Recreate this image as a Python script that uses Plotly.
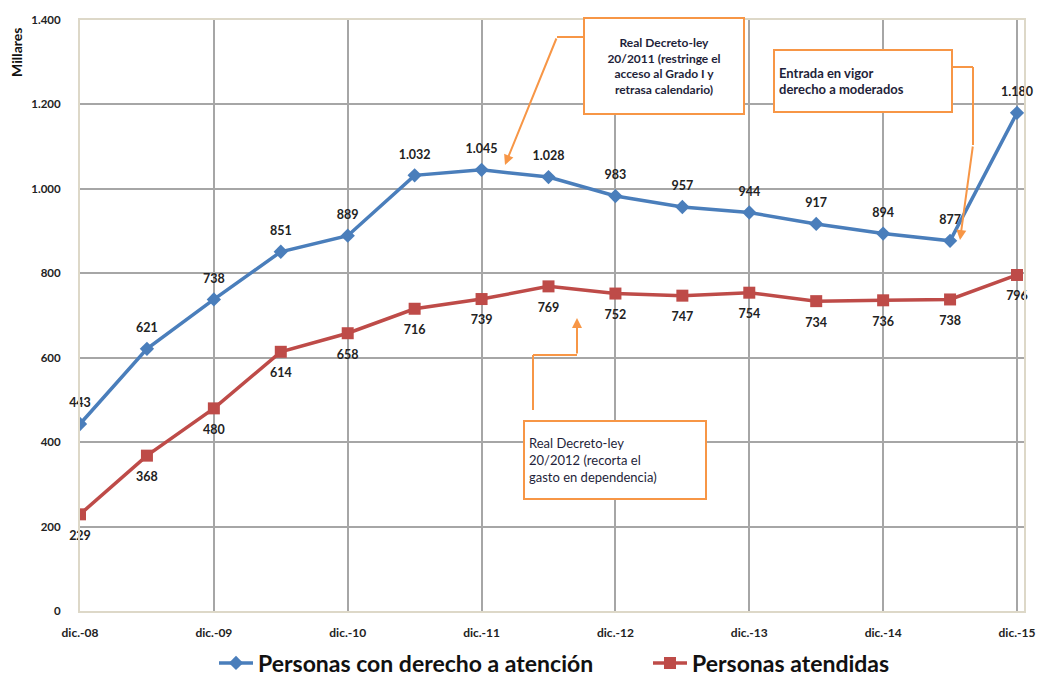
import plotly.graph_objects as go

categories = ["dic.-08", "jun.-09", "dic.-09", "jun.-10", "dic.-10", "jun.-11", "dic.-11",
              "jun.-12", "dic.-12", "jun.-13", "dic.-13", "jun.-14", "dic.-14", "jun.-15", "dic.-15"]
derecho = [443, 621, 738, 851, 889, 1032, 1045, 1028, 983, 957, 944, 917, 894, 877, 1180]
atendidas = [229, 368, 480, 614, 658, 716, 739, 769, 752, 747, 754, 734, 736, 738, 796]
tick_labels = ["dic.-08", "dic.-09", "dic.-10", "dic.-11", "dic.-12", "dic.-13", "dic.-14", "dic.-15"]

# page coordinates of the plot area (the page body has an 8px default margin)
OFF = 8
L, R, T, B = 80, 1024, 20, 611
WF, HF = 1037, 690
FONT = "Lato"
ORANGE = "#F79646"
BLUE = "#4A7EBB"
RED = "#BE4B48"
LABEL_FONT = dict(family=FONT, size=12.5, color="#222222", weight="bold")

xs = list(range(len(categories)))

fig = go.Figure()
fig.add_trace(go.Scatter(
    x=xs, y=derecho, name="Personas con derecho a atención",
    mode="lines+markers",
    line=dict(color=BLUE, width=3.5),
    marker=dict(symbol="diamond", size=11, color=BLUE),
    customdata=categories,
))
fig.add_trace(go.Scatter(
    x=xs, y=atendidas, name="Personas atendidas",
    mode="lines+markers",
    line=dict(color=RED, width=3.5),
    marker=dict(symbol="square", size=12, color=RED),
    customdata=categories,
))
# value labels (transparent markers give the labels their distance from the points)
fig.add_trace(go.Scatter(
    x=xs, y=derecho, mode="markers+text", showlegend=False, hoverinfo="skip",
    marker=dict(size=20, color="rgba(0,0,0,0)"),
    text=derecho, texttemplate="%{y:,}", textposition="top center",
    textfont=LABEL_FONT, cliponaxis=False,
))
fig.add_trace(go.Scatter(
    x=xs, y=atendidas, mode="markers+text", showlegend=False, hoverinfo="skip",
    marker=dict(size=24, color="rgba(0,0,0,0)"),
    text=atendidas, texttemplate="%{y:,}", textposition="bottom center",
    textfont=LABEL_FONT, cliponaxis=False,
))


def px(x):
    return (x - L) / (R - L)


def py(y):
    return (B - y) / (B - T)


shapes = []
for (x0, y0, x1, y1) in [(583, 37, 557, 37),
                         (953, 67, 973, 67), (973, 67, 973, 145),
                         (533, 410, 533, 355), (533, 355, 577, 355)]:
    shapes.append(dict(type="line", xref="paper", yref="paper",
                       x0=px(x0), y0=py(y0), x1=px(x1), y1=py(y1),
                       line=dict(color=ORANGE, width=2)))

annotations = []
# arrows
for (tx, ty, sx, sy) in [(505, 165, 557, 37), (960, 240, 973, 145), (577, 318, 577, 355)]:
    annotations.append(dict(xref="paper", yref="paper", x=px(tx), y=py(ty),
                            ax=sx - tx, ay=sy - ty, axref="pixel", ayref="pixel",
                            showarrow=True, arrowhead=2, arrowsize=1, arrowwidth=2,
                            arrowcolor=ORANGE, text=""))

# boxes
boxes = [
    (664, 66, 150, 86, "Real Decreto-ley<br>20/2011 (restringe el<br>acceso al Grado I y<br>retrasa calendario)", "center", 12, "bold"),
    (863, 81, 168, 52, "Entrada en vigor<br>derecho a moderados", "left", 13, "bold"),
    (615, 460, 172, 68, "Real Decreto-ley<br>20/2012 (recorta el<br>gasto en dependencia)", "left", 13, "normal"),
]
for (cx, cy, w, h, txt, al, fs, wt) in boxes:
    annotations.append(dict(xref="paper", yref="paper", x=px(cx), y=py(cy),
                            xanchor="center", yanchor="middle", showarrow=False,
                            text=txt, align=al, width=w, height=h, valign="middle",
                            font=dict(family=FONT, size=fs, color="#1F1F3A", weight=wt),
                            bgcolor="white", bordercolor=ORANGE, borderwidth=2, borderpad=4))

# y axis title
annotations.append(dict(xref="paper", yref="paper", x=px(17), y=py(53), text="Millares",
                        textangle=-90, showarrow=False, xanchor="center", yanchor="middle",
                        font=dict(family=FONT, size=14, color="#111111", weight="bold")))

fig.update_layout(
    width=WF, height=HF,
    margin=dict(l=L - OFF, r=WF - (R - OFF), t=T - OFF, b=HF - (B - OFF), autoexpand=False),
    paper_bgcolor="white", plot_bgcolor="white",
    separators=",.",
    font=dict(family=FONT, color="#222222"),
    showlegend=True,
    legend=dict(orientation="h", x=px(214), xanchor="left", y=py(663), yanchor="middle",
                font=dict(family=FONT, size=23, color="#111111", weight="bold"),
                itemwidth=34, entrywidth=385, entrywidthmode="pixels", traceorder="normal"),
    shapes=shapes, annotations=annotations,
    xaxis=dict(range=[0, 14 * (R - L) / (1017 - L)], tickvals=xs[::2], ticktext=tick_labels,
               automargin=False,
               showgrid=True, gridcolor="#A6A6A6", gridwidth=1.5, zeroline=False,
               showline=True, linecolor="#DDD8C8", linewidth=2, mirror=True,
               ticks="", tickfont=dict(family=FONT, size=12, color="#222222", weight="bold"),
               ticklabelstandoff=10),
    yaxis=dict(range=[0, 1400], dtick=200, separatethousands=True, automargin=False,
               showgrid=True, gridcolor="#A6A6A6", gridwidth=1.5, zeroline=False,
               showline=True, linecolor="#DDD8C8", linewidth=2, mirror=True,
               ticks="", tickfont=dict(family=FONT, size=11.5, color="#222222", weight="bold"),
               ticklabelstandoff=15),
)

fig.write_html("out.html")
